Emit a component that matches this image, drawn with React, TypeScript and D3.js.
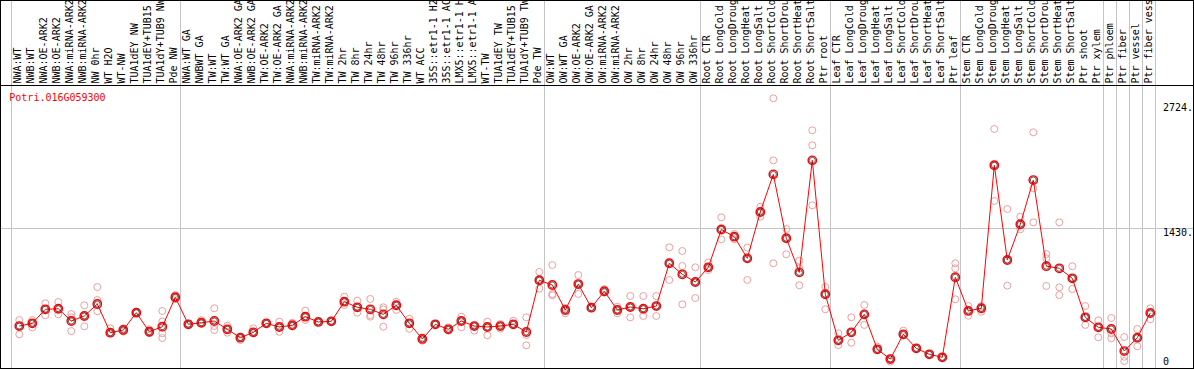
import React from 'react';
import * as d3 from 'd3';

const geneName = 'Potri.016G059300';

const labels = [
  'NWA:WT', 'NWB:WT', 'NWA:OE-ARK2', 'NWB:OE-ARK2', 'NWA:miRNA-ARK2', 'NWB:miRNA-ARK2', 'NW 0hr', 'WT H2O', 'WT-NW',
  'TUA1dEY NW', 'TUA1dEY+TUB15', 'TUA1dY+TUB9 NW', 'Pde NW',
  'NWA:WT GA', 'NWBWT GA', 'TW:WT', 'TW:WT GA', 'NWA:OE-ARK2 GA', 'NWB:OE-ARK2 GA', 'TW:OE-ARK2', 'TW:OE-ARK2 GA',
  'NWA:miRNA-ARK2', 'NWB:miRNA-ARK2', 'TW:miRNA-ARK2', 'TW:miRNA-ARK2', 'TW 2hr', 'TW 8hr', 'TW 24hr', 'TW 48hr',
  'TW 96hr', 'TW 336hr', 'WT ACC', '35S::etr1-1 H2', '35S::etr1-1 AC', 'LMX5::etr1-1 H', 'LMX5::etr1-1 A', 'WT-TW',
  'TUA1dEY TW', 'TUA1dEY+TUB15', 'TUA1dY+TUB9 TW', 'Pde TW',
  'OW:WT', 'OW:WT GA', 'OW:OE-ARK2', 'OW:OE-ARK2 GA', 'OW:miRNA-ARK2', 'OW:miRNA-ARK2', 'OW 2hr', 'OW 8hr', 'OW 24hr',
  'OW 48hr', 'OW 96hr', 'OW 336hr',
  'Root CTR', 'Root LongCold', 'Root LongDroug', 'Root LongHeat', 'Root LongSalt', 'Root ShortCold', 'Root ShortDrou',
  'Root ShortHeat', 'Root ShortSalt', 'Ptr root',
  'Leaf CTR', 'Leaf LongCold', 'Leaf LongDroug', 'Leaf LongHeat', 'Leaf LongSalt', 'Leaf ShortCold', 'Leaf ShortDrou',
  'Leaf ShortHeat', 'Leaf ShortSalt', 'Ptr leaf',
  'Stem CTR', 'Stem LongCold', 'Stem LongDroug', 'Stem LongHeat', 'Stem LongSalt', 'Stem ShortCold', 'Stem ShortDrou',
  'Stem ShortHeat', 'Stem ShortSalt', 'Ptr shoot', 'Ptr xylem',
  'Ptr phloem', 'Ptr fiber', 'Ptr vessel', 'Ptr fiber vess',
];

const means = [
  414, 442, 587, 593, 466, 518, 642, 345, 373, 552, 355, 407, 712,
  432, 448, 466, 380, 293, 349, 442, 404, 422, 511, 456, 463, 666, 608, 587, 535, 629, 442, 280, 432, 380, 466, 414,
  404, 414, 432, 352, 888,
  839, 580, 849, 604, 774, 580, 611, 593, 621, 1064, 950, 870,
  1022, 1414, 1339, 1115, 1595, 1985, 1323, 970, 2130, 743,
  266, 349, 535, 173, 72, 328, 183, 121, 90, 919,
  570, 598, 2079, 1098, 1468, 1926, 1034, 1012, 908, 504, 401,
  383, 155, 293, 549,
];

const replicates = [
  [476, 328, 414], [476, 401, 445], [650, 525, 587], [663, 535, 590], [538, 504, 362], [629, 411, 518],
  [818, 684, 567], [390, 339, 345], [390, 373, 358], [560, 548, 552], [380, 339, 355], [570, 459, 339, 290],
  [735, 691, 712],
  [432, 440, 425], [476, 448, 440], [598, 414, 373], [417, 345, 380], [269, 293, 300], [390, 349, 340],
  [442, 445, 440], [459, 355, 404], [448, 422, 410], [573, 476, 511], [456, 458, 454], [463, 465, 461],
  [718, 632, 666], [676, 552, 608], [694, 528, 511], [608, 587, 407], [666, 580, 629], [490, 386, 442],
  [297, 262, 280], [432, 434, 430], [401, 380, 370], [511, 401, 466], [414, 366, 420], [459, 318, 404],
  [435, 386, 414], [469, 432, 430], [504, 321, 214], [974, 801, 888],
  [1046, 746, 732], [546, 580, 600], [942, 746, 849], [604, 606, 602], [797, 774, 760], [614, 546, 580],
  [725, 504, 611], [725, 518, 593], [725, 518, 621], [1229, 891, 1064], [1191, 1036, 639], [1022, 704, 870],
  [1072, 994, 1022], [1540, 1312, 1414], [1367, 1312, 1339], [1227, 891, 1115], [1650, 1545, 1595],
  [2773, 2130, 1064], [1419, 1157, 1323], [1091, 1012, 836], [2441, 2286, 1664], [818, 587, 743],
  [339, 217, 266], [504, 241, 349], [632, 425, 535], [200, 173, 165], [45, 72, 80], [366, 328, 320],
  [183, 185, 181], [121, 123, 119], [90, 92, 88], [1064, 1012, 691],
  [621, 521, 570], [621, 562, 598], [2455, 1709, 2079], [1626, 832, 1098], [1546, 1416, 1468],
  [2420, 1840, 1488], [1160, 1115, 829], [1488, 815, 735], [1033, 797, 908], [621, 425, 504],
  [473, 297, 401],
  [497, 339, 287], [300, 96, 52], [383, 204, 293], [598, 484, 549],
];

const groupEnds = [12, 40, 52, 62, 72, 83, 84, 85, 86, 87];
const yTicks = [2724, 1430, 0];
const yTickLabels = ['2724.', '1430.', '0'];
const gridValues = [1430];

const W = 1194;
const H = 370;
const FONT = '"DejaVu Sans Mono", "Liberation Mono", monospace';

export default function App() {
  const idx = d3.range(labels.length);
  const x = d3.scaleLinear().domain([0, labels.length - 1]).range([19.3, 1150.3]);
  const y = d3.scaleLinear().domain([0, 2724]).range([366, 103]);
  const line = d3
    .line<number>()
    .x((i) => x(i))
    .y((i) => y(means[i]));

  const sepXs = [x(0) - 8.8, ...groupEnds.map((e) => x(e) + 4.7)].map((v) => Math.round(v) + 0.5);
  const sepPos = (v: number) => Math.round(v) + 0.5;

  return (
    <svg
      width={W}
      height={H}
      style={{ position: 'absolute', left: 0, top: 0, background: '#fff' }}
      fontFamily={FONT}
    >
      <rect x={0} y={0} width={W} height={H} fill="#fff" />
      {sepXs.map((sx, k) => (
        <line key={'s' + k} x1={sx} x2={sx} y1={0} y2={368} stroke="#c4c4c4" strokeWidth={1} shapeRendering="crispEdges" />
      ))}
      {gridValues.map((g) => (
        <line key={'g' + g} x1={0} x2={W} y1={sepPos(y(g))} y2={sepPos(y(g))} stroke="#c4c4c4" strokeWidth={1} shapeRendering="crispEdges" />
      ))}
      <line x1={0} x2={W} y1={85.5} y2={85.5} stroke="#000" strokeWidth={1} shapeRendering="crispEdges" />
      <rect x={0.5} y={0.5} width={W - 1} height={368} fill="none" stroke="#000" strokeWidth={1} shapeRendering="crispEdges" />
      {idx.map((i) => (
        <text
          key={'l' + i}
          transform={`translate(${x(i) + 1.3},83.5) rotate(-90)`}
          fontSize={10}
          fill="#000"
        >
          {labels[i]}
        </text>
      ))}
      <text x={9.3} y={100.7} fontSize={10} fill="#ff0000">
        {geneName}
      </text>
      {yTicks.map((t, k) => (
        <text key={'t' + k} x={1163} y={t === 0 ? y(t) - 1.5 : y(t) + 8} fontSize={10} fill="#000">
          {yTickLabels[k]}
        </text>
      ))}
      <g>
        {idx.map((i) =>
          replicates[i].map((v, j) => (
            <circle key={'r' + i + '-' + j} cx={x(i)} cy={y(v)} r={3.5} fill="none" stroke="#eba0a0" strokeWidth={1} />
          ))
        )}
      </g>
      <path d={line(idx) || ''} fill="none" stroke="#ff0000" strokeWidth={1} />
      <g>
        {idx.map((i) => (
          <g key={'m' + i}>
            <circle cx={x(i)} cy={y(means[i])} r={4.2} fill="none" stroke="#ff0000" strokeWidth={1.4} />
            <circle cx={x(i)} cy={y(means[i])} r={3.0} fill="none" stroke="#000" strokeWidth={0.6} />
          </g>
        ))}
      </g>
    </svg>
  );
}
